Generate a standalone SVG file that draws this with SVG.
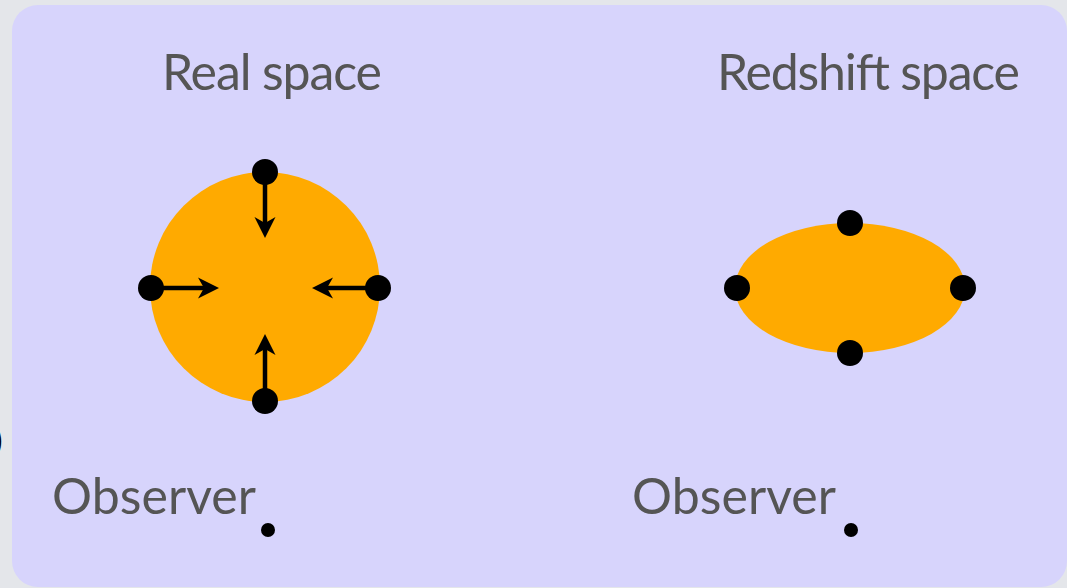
<svg xmlns="http://www.w3.org/2000/svg" width="1067" height="588" viewBox="0 0 1067 588">
<style>
.lbl{font-family:Lato,"Open Sans","Liberation Sans",sans-serif;fill:#555555;font-size:50px}
.dot{fill:#000}
.arr{stroke:#000;stroke-width:4.5;fill:none}
.head{fill:#000}
</style>
<rect x="0" y="0" width="1067" height="588" fill="#e4e6ea"/>
<text x="-6" y="452" font-family="Lato,sans-serif" font-size="32" fill="#000">)</text>
<rect x="12" y="5" width="1055" height="582" rx="26" fill="#d7d4fc"/>
<g id="real-space">
<text class="lbl" x="162" y="90" textLength="220">Real space</text>
<circle cx="265" cy="287" r="115" fill="#ffaa00"/>
</g>
<g id="redshift-space">
<text class="lbl" x="717" y="90" textLength="303">Redshift space</text>
<ellipse cx="850" cy="288" rx="115" ry="65" fill="#ffaa00"/>
</g>
<g id="connectors">
<line class="arr" x1="265" y1="172" x2="265" y2="224"/>
<path class="head" d="M265,238 L254.5,217 L265,223 L275.5,217 Z"/>
<line class="arr" x1="265" y1="401" x2="265" y2="349"/>
<path class="head" d="M265,334 L254.5,355 L265,349 L275.5,355 Z"/>
<line class="arr" x1="151" y1="288" x2="204" y2="288"/>
<path class="head" d="M219,288 L198,277.5 L204,288 L198,298.5 Z"/>
<line class="arr" x1="378" y1="288" x2="327" y2="288"/>
<path class="head" d="M312,288 L333,277.5 L327,288 L333,298.5 Z"/>
</g>
<g id="real-dots">
<circle class="dot" cx="265" cy="172" r="13"/>
<circle class="dot" cx="265" cy="401" r="13"/>
<circle class="dot" cx="151" cy="288" r="13"/>
<circle class="dot" cx="378" cy="288" r="13"/>
</g>
<g id="redshift-dots">
<circle class="dot" cx="850" cy="223" r="13"/>
<circle class="dot" cx="850" cy="353" r="13"/>
<circle class="dot" cx="737" cy="288" r="13"/>
<circle class="dot" cx="963" cy="288" r="13"/>
</g>
<g id="observer-left">
<text class="lbl" x="52" y="514" textLength="204">Observer</text>
<circle class="dot" cx="268" cy="530" r="7"/>
</g>
<g id="observer-right">
<text class="lbl" x="632" y="514" textLength="204">Observer</text>
<circle class="dot" cx="851" cy="530" r="7"/>
</g>
</svg>
